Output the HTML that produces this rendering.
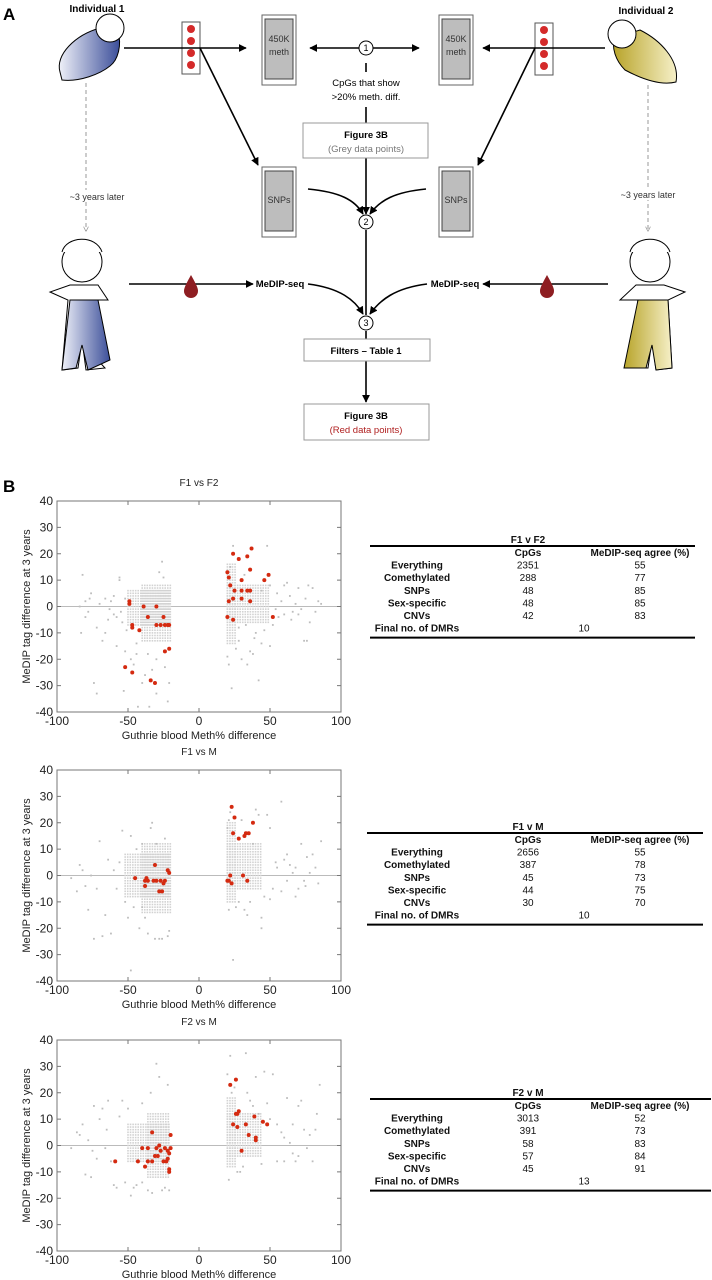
<!DOCTYPE html>
<html><head><meta charset="utf-8">
<style>
html,body{margin:0;padding:0;background:#fff;}
body{width:712px;height:1280px;position:relative;overflow:hidden;font-family:"Liberation Sans",sans-serif;}
svg{position:absolute;left:0;top:0;}
text{font-family:"Liberation Sans",sans-serif;}
</style></head>
<body>
<svg width="712" height="1280" viewBox="0 0 712 1280">
<defs>
<marker id="ah" viewBox="0 0 10 10" refX="9" refY="5" markerWidth="5" markerHeight="5" orient="auto-start-reverse"><path d="M0,0 L10,5 L0,10 z" fill="#000"/></marker>
<marker id="ahg" viewBox="0 0 10 10" refX="9" refY="5" markerWidth="5" markerHeight="5" orient="auto"><path d="M0,0 L10,5 L0,10" fill="none" stroke="#999" stroke-width="1.5"/></marker>
<linearGradient id="blue" x1="0" y1="0" x2="1" y2="0"><stop offset="0" stop-color="#eef0f8"/><stop offset="1" stop-color="#3c4f9a"/></linearGradient>
<linearGradient id="yel" x1="0" y1="0" x2="1" y2="0"><stop offset="0" stop-color="#b8a42a"/><stop offset="1" stop-color="#f6f0c8"/></linearGradient>
</defs>

<!-- PANEL A -->
<g>
<text x="3" y="20" font-size="17" font-weight="bold">A</text>
<text x="97" y="12" font-size="10" font-weight="bold" text-anchor="middle">Individual 1</text>
<text x="646" y="14" font-size="10" font-weight="bold" text-anchor="middle">Individual 2</text>

<g stroke="#000" stroke-width="1">
<path d="M60,72 C55,55 75,35 100,28 L118,32 C122,45 118,60 110,66 C100,74 80,82 62,80 Z" fill="url(#blue)"/>
<circle cx="110" cy="28" r="14" fill="#fff"/>
</g>
<g stroke="#000" stroke-width="1">
<path d="M614,38 L640,30 C660,40 680,60 676,82 C660,86 640,78 625,70 C615,60 612,48 614,38 Z" fill="url(#yel)"/>
<circle cx="622" cy="34" r="14" fill="#fff"/>
</g>

<g>
<rect x="182" y="22" width="18" height="52" fill="#fff" stroke="#555"/>
<circle cx="191" cy="29" r="4" fill="#d42a2a"/><circle cx="191" cy="41" r="4" fill="#d42a2a"/><circle cx="191" cy="53" r="4" fill="#d42a2a"/><circle cx="191" cy="65" r="4" fill="#d42a2a"/>
</g>
<g>
<rect x="535" y="23" width="18" height="52" fill="#fff" stroke="#555"/>
<circle cx="544" cy="30" r="4" fill="#d42a2a"/><circle cx="544" cy="42" r="4" fill="#d42a2a"/><circle cx="544" cy="54" r="4" fill="#d42a2a"/><circle cx="544" cy="66" r="4" fill="#d42a2a"/>
</g>

<g><rect x="262" y="15" width="34" height="70" fill="#fff" stroke="#666"/><rect x="265" y="19" width="28" height="60" fill="#bdbdbd" stroke="#444"/><text x="279" y="42" font-size="9" text-anchor="middle" fill="#333">450K</text><text x="279" y="55" font-size="9" text-anchor="middle" fill="#333">meth</text></g>
<g><rect x="439" y="15" width="34" height="70" fill="#fff" stroke="#666"/><rect x="442" y="19" width="28" height="60" fill="#bdbdbd" stroke="#444"/><text x="456" y="42" font-size="9" text-anchor="middle" fill="#333">450K</text><text x="456" y="55" font-size="9" text-anchor="middle" fill="#333">meth</text></g>
<g><rect x="262" y="167" width="34" height="70" fill="#fff" stroke="#666"/><rect x="265" y="171" width="28" height="60" fill="#bdbdbd" stroke="#444"/><text x="279" y="203" font-size="9" text-anchor="middle" fill="#333">SNPs</text></g>
<g><rect x="439" y="167" width="34" height="70" fill="#fff" stroke="#666"/><rect x="442" y="171" width="28" height="60" fill="#bdbdbd" stroke="#444"/><text x="456" y="203" font-size="9" text-anchor="middle" fill="#333">SNPs</text></g>

<g stroke="#000" stroke-width="1.6" fill="none">
<line x1="124" y1="48" x2="246" y2="48" marker-end="url(#ah)"/>
<line x1="605" y1="48" x2="483" y2="48" marker-end="url(#ah)"/>
<line x1="310" y1="48" x2="419" y2="48" marker-start="url(#ah)" marker-end="url(#ah)"/>
<line x1="200" y1="48" x2="258" y2="165" marker-end="url(#ah)"/>
<line x1="535" y1="48" x2="478" y2="165" marker-end="url(#ah)"/>
<line x1="366" y1="63" x2="366" y2="72"/>
<line x1="366" y1="107" x2="366" y2="123"/>
<line x1="366" y1="158" x2="366" y2="214" marker-end="url(#ah)"/>
<path d="M308,189 C340,192 355,200 363,214" marker-end="url(#ah)"/>
<path d="M426,189 C395,192 380,200 370,214" marker-end="url(#ah)"/>
<line x1="366" y1="230" x2="366" y2="315"/>
<line x1="129" y1="284" x2="253" y2="284" marker-end="url(#ah)"/>
<line x1="608" y1="284" x2="483" y2="284" marker-end="url(#ah)"/>
<path d="M308,284 C340,288 355,300 363,314" marker-end="url(#ah)"/>
<path d="M427,284 C395,288 380,300 370,314" marker-end="url(#ah)"/>
<line x1="366" y1="331" x2="366" y2="339"/>
<line x1="366" y1="361" x2="366" y2="402" marker-end="url(#ah)"/>
</g>
<g font-size="9" text-anchor="middle">
<circle cx="366" cy="48" r="7" fill="#fff" stroke="#000"/><text x="366" y="51">1</text>
<circle cx="366" cy="222" r="7" fill="#fff" stroke="#000"/><text x="366" y="225">2</text>
<circle cx="366" cy="323" r="7" fill="#fff" stroke="#000"/><text x="366" y="326">3</text>
</g>
<text x="366" y="86" font-size="9.5" text-anchor="middle">CpGs that show</text>
<text x="366" y="100" font-size="9.5" text-anchor="middle">&gt;20% meth. diff.</text>
<g><rect x="303" y="123" width="125" height="35" fill="#fff" stroke="#999"/><text x="366" y="138" font-size="9.5" font-weight="bold" text-anchor="middle">Figure 3B</text><text x="366" y="152" font-size="9.5" text-anchor="middle" fill="#777">(Grey data points)</text></g>
<g><rect x="304" y="339" width="126" height="22" fill="#fff" stroke="#999"/><text x="366" y="354" font-size="9.5" font-weight="bold" text-anchor="middle">Filters – Table 1</text></g>
<g><rect x="304" y="404" width="125" height="36" fill="#fff" stroke="#999"/><text x="366" y="419" font-size="9.5" font-weight="bold" text-anchor="middle">Figure 3B</text><text x="366" y="433" font-size="9.5" text-anchor="middle" fill="#b02020">(Red data points)</text></g>

<g><line x1="86" y1="83" x2="86" y2="231" stroke="#999" stroke-dasharray="4,3" marker-end="url(#ahg)"/><rect x="58" y="190" width="60" height="12" fill="#fff"/><text x="97" y="200" font-size="9" text-anchor="middle" fill="#333">~3 years later</text></g>
<g><line x1="648" y1="85" x2="648" y2="231" stroke="#999" stroke-dasharray="4,3" marker-end="url(#ahg)"/><rect x="616" y="188" width="62" height="12" fill="#fff"/><text x="648" y="198" font-size="9" text-anchor="middle" fill="#333">~3 years later</text></g>

<text x="280" y="287" font-size="9.5" font-weight="bold" text-anchor="middle" fill="#fff" stroke="#fff" stroke-width="4">MeDIP-seq</text>
<text x="280" y="287" font-size="9.5" font-weight="bold" text-anchor="middle">MeDIP-seq</text>
<text x="455" y="287" font-size="9.5" font-weight="bold" text-anchor="middle" fill="#fff" stroke="#fff" stroke-width="4">MeDIP-seq</text>
<text x="455" y="287" font-size="9.5" font-weight="bold" text-anchor="middle">MeDIP-seq</text>
<path d="M191,275 C186,284 184,288 184,291 A7,7 0 0 0 198,291 C198,288 196,284 191,275Z" fill="#8e1e22"/>
<path d="M547,275 C542,284 540,288 540,291 A7,7 0 0 0 554,291 C554,288 552,284 547,275Z" fill="#8e1e22"/>

<g stroke="#000" stroke-width="1">
<circle cx="82" cy="262" r="20" fill="#fff"/>
<path d="M62,252 C66,236 96,234 102,252" fill="#fff"/>
<path d="M70,285 L98,285 L108,300 L95,300 L93,355 L105,368 L86,370 L82,340 L78,368 L62,370 L68,300 L50,292 Z" fill="#fff"/>
<path d="M70,300 L98,300 L110,360 L88,370 L82,345 L76,368 L62,370 Z" fill="url(#blue)"/>
</g>
<g stroke="#000" stroke-width="1">
<circle cx="650" cy="262" r="20" fill="#fff"/>
<path d="M630,252 C634,236 664,234 670,252" fill="#fff"/>
<path d="M636,285 L664,285 L685,292 L668,300 L672,368 L656,370 L652,340 L648,368 L628,368 L638,300 L620,300 Z" fill="#fff"/>
<path d="M638,300 L668,300 L672,368 L656,370 L652,345 L646,368 L624,368 Z" fill="url(#yel)"/>
</g>
</g>

<text x="3" y="492" font-size="17" font-weight="bold">B</text>
<g id="charts"></g>
<g id="tables"></g>
</svg>

<script>
const plotTitles = ["F1 vs F2", "F1 vs M", "F2 vs M"];
const xTicks = [-100, -50, 0, 50, 100];
const yTicks = [40, 30, 20, 10, 0, -10, -20, -30, -40];

const red1X = [-49,-49,-47,-47,-42,-39,-36,-30,-30,-27,-25,-24,-22,-21,-24,-21,-52,-47,-34,-31,20,21,22,21,20,24,24,25,28,30,30,30,34,34,36,36,36,37,46,49,52,24];
const red1Y = [2,1,-7,-8,-9,0,-4,0,-7,-7,-4,-7,-7,-7,-17,-16,-23,-25,-28,-29,13,11,8,2,-4,20,3,6,18,10,6,3,19,6,14,6,2,22,10,12,-4,-5];
const grey1X = [-82,-83,-80,-78,-76,-74,-72,-70,-68,-66,-64,-62,-60,-58,-56,-56,-54,-53,-52,-51,-48,-46,-44,-43,-40,-38,-35,-33,-30,-28,-26,-24,-22,-21,-25,-44,-36,-30,-60,-66,-72,-58,-84,-80,-77,-63,-55,-52,20,21,22,23,24,26,28,30,32,34,36,38,40,42,44,46,48,50,52,55,58,60,62,64,66,68,70,72,74,76,77,78,80,82,84,86,56,60,65,70,75,44,50,54,39,33,28];
const grey1Y = [12,-10,2,-2,5,-29,-33,1,-13,3,-5,2,-3,-15,11,10,-6,-32,-17,-9,-20,-22,-14,-38,-29,-26,-38,-24,-33,13,17,-23,-36,-29,11,-18,-18,-20,4,-10,-8,-4,0,-4,3,-1,-2,3,-19,-22,15,-31,23,-16,-13,-20,12,-22,-17,-18,-10,-28,-14,-9,23,-15,-7,5,2,-3,9,4,-2,1,7,-1,-13,-13,8,-6,7,-2,2,1,-4,8,-5,-3,3,6,8,-1,-12,-7,-8];
const band1XMin = [-50,-40,20,20];
const band1XMax = [-20,-20,50,26];
const band1YMin = [-7,-13,-6,-14];
const band1YMax = [6,8,8,16];

const red2X = [-45,-38,-37,-38,-36,-32,-31,-30,-28,-26,-25,-24,-22,-21,-27,20,21,22,23,23,24,25,28,31,32,33,34,35,38];
const red2Y = [-1,-2,-1,-4,-2,-2,4,-2,-6,-6,-3,-2,2,1,-2,-2,-2,0,-3,26,16,22,14,0,15,16,-2,16,20];
const grey2X = [-90,-86,-84,-82,-80,-78,-76,-74,-72,-70,-68,-66,-64,-62,-60,-58,-56,-54,-52,-50,-48,-48,-46,-44,-42,-40,-38,-36,-34,-33,-31,-28,-26,-24,-22,-21,-30,-40,20,21,21,22,24,26,28,30,32,34,36,38,40,42,44,44,48,50,52,55,58,58,60,62,64,66,68,70,72,74,76,78,80,82,84,86,46,50,54,62,68,75];
const grey2Y = [-1,-6,4,2,-4,-13,0,-24,-5,13,-23,-15,6,-22,2,-5,5,17,-10,-16,15,-36,-12,10,-20,-12,-16,-22,18,20,-24,-24,-24,14,-23,-21,12,12,18,21,-13,24,-32,-12,-10,21,-13,-15,-10,12,25,23,-16,-20,23,18,-5,3,28,-6,6,-2,4,1,-8,-5,12,-2,7,1,8,3,-3,13,-8,-9,5,8,3,-4];
const band2XMin = [-52,-40,20,20];
const band2XMax = [-20,-20,45,26];
const band2YMin = [-8,-14,-5,-10];
const band2YMax = [8,12,12,20];

const red3X = [-59,-43,-40,-36,-36,-33,-33,-31,-30,-29,-28,-27,-25,-24,-23,-22,-22,-21,-21,-20,-20,-21,-38,22,24,26,26,27,27,28,30,33,35,39,40,40,45,48];
const red3Y = [-6,-6,-1,-1,-6,5,-6,-4,-1,-4,0,-2,-6,-1,-6,-2,-5,-9,-3,-1,4,-10,-8,23,8,12,25,7,12,13,-2,8,4,11,2,3,9,8];
const grey3X = [-90,-86,-84,-82,-80,-78,-76,-74,-72,-70,-68,-66,-64,-62,-60,-58,-56,-54,-52,-50,-48,-46,-44,-40,-36,-33,-30,-28,-26,-24,-22,-21,-34,-40,-65,-75,20,21,22,23,25,27,29,31,33,34,36,38,40,42,44,46,48,50,52,55,58,60,62,64,66,68,70,72,74,76,78,80,82,83,85,70,60,55,66];
const grey3Y = [-1,5,4,8,-11,2,-12,15,-5,10,14,-1,17,-6,-15,-16,11,17,-14,14,-19,-16,-15,-14,-17,-18,31,26,-17,-16,23,-17,20,16,6,-2,27,-13,34,20,22,-10,-10,-8,35,20,17,15,26,12,-7,28,16,10,27,-6,5,-6,18,1,-3,-6,15,17,6,-1,4,-6,6,12,23,-4,3,8,8];
const band3XMin = [-50,-36,20,20];
const band3XMax = [-20,-20,45,26];
const band3YMin = [-6,-12,-4,-8];
const band3YMax = [8,12,12,18];

const redXs = [red1X, red2X, red3X];
const redYs = [red1Y, red2Y, red3Y];
const greyXs = [grey1X, grey2X, grey3X];
const greyYs = [grey1Y, grey2Y, grey3Y];
const bandXMins = [band1XMin, band2XMin, band3XMin];
const bandXMaxs = [band1XMax, band2XMax, band3XMax];
const bandYMins = [band1YMin, band2YMin, band3YMin];
const bandYMaxs = [band1YMax, band2YMax, band3YMax];

const tableTitles = ["F1 v F2", "F1 v M", "F2 v M"];
const rowLabels = ["Everything","Comethylated","SNPs","Sex-specific","CNVs"];
const cpgs = [[2351,288,48,48,42],[2656,387,45,44,30],[3013,391,58,57,45]];
const agree = [[55,77,85,85,83],[55,78,73,75,70],[52,73,83,84,91]];
const dmrs = [10, 10, 13];

const NS = "http://www.w3.org/2000/svg";
function mk(tag, attrs, parent){ const e=document.createElementNS(NS,tag); for(const k in attrs) e.setAttribute(k,attrs[k]); if(parent) parent.appendChild(e); return e; }

const plotTops = [501, 770, 1040];
const L = 57, R = 341, H = 211;
const charts = document.getElementById('charts');

plotTitles.forEach((title, p) => {
  const T = plotTops[p], B = T + H;
  const xs = v => L + (v + 100) / 200 * (R - L);
  const ys = v => T + (40 - v) / 80 * H;
  const g = mk('g', {}, charts);
  
  
  const t = mk('text', {x:(L+R)/2, y:T-15, 'font-size':10, 'text-anchor':'middle', fill:'#222'}, g);
  t.textContent = title;
  
  
  const z = mk('line', {x1:L, x2:R, y1:ys(0), y2:ys(0), stroke:'#bbb', 'stroke-width':1}, g);
  
  
  const bx0 = bandXMins[p], bx1 = bandXMaxs[p], by0 = bandYMins[p], by1 = bandYMaxs[p];
  for (let b = 0; b < bx0.length; b++) {
    for (let yv = by0[b]; yv <= by1[b]; yv++) {
      for (let xv = bx0[b]; xv <= bx1[b]; xv += 1.8) {
        const d = mk('rect', {x:xs(xv)-0.8, y:ys(yv)-0.8, width:1.6, height:1.6, fill:'#d2d2d2'}, g);
        
        
      }
    }
  }
  const gx = greyXs[p], gy = greyYs[p];
  for (let i = 0; i < gx.length; i++) {
    const d = mk('rect', {x:xs(gx[i])-0.9, y:ys(gy[i])-0.9, width:1.8, height:1.8, fill:'#bdbdbd'}, g);
    
    
  }
  const rx = redXs[p], ry = redYs[p];
  for (let i = 0; i < rx.length; i++) {
    const c = mk('circle', {cx:xs(rx[i]), cy:ys(ry[i]), r:2, fill:'#d42a10'}, g);
    
    
  }
  const f = mk('rect', {x:L, y:T, width:R-L, height:H, fill:'none', stroke:'#777', 'stroke-width':1}, g);
  
  
  xTicks.forEach(v => {
    mk('line', {x1:xs(v), x2:xs(v), y1:B, y2:B-4, stroke:'#777'}, g);
    mk('line', {x1:xs(v), x2:xs(v), y1:T, y2:T+4, stroke:'#777'}, g);
    const tl = mk('text', {x:xs(v), y:B+13, 'font-size':12, 'text-anchor':'middle', fill:'#222'}, g);
    tl.textContent = v;
    
    
  });
  yTicks.forEach(v => {
    mk('line', {x1:L, x2:L+4, y1:ys(v), y2:ys(v), stroke:'#777'}, g);
    mk('line', {x1:R, x2:R-4, y1:ys(v), y2:ys(v), stroke:'#777'}, g);
    const tl = mk('text', {x:L-4, y:ys(v)+4, 'font-size':12, 'text-anchor':'end', fill:'#222'}, g);
    tl.textContent = v;
    
    
  });
  const xl = mk('text', {x:(L+R)/2, y:B+27, 'font-size':11, 'text-anchor':'middle', fill:'#222'}, g);
  xl.textContent = 'Guthrie blood Meth% difference';
  
  
  const yl = mk('text', {x:0, y:0, 'font-size':11, 'text-anchor':'middle', fill:'#222', transform:`translate(30,${T+H/2}) rotate(-90)`}, g);
  yl.textContent = 'MeDIP tag difference at 3 years';
  
  
});

const tableTops = [546, 833, 1099];
const tableLefts = [370, 367, 370];
const tableRights = [695, 703, 711];
const tables = document.getElementById('tables');
tableTitles.forEach((title, k) => {
  const top = tableTops[k], l = tableLefts[k], r = tableRights[k];
  const g = mk('g', {'font-size':10, fill:'#111'}, tables);
  
  
  const tt = mk('text', {x:528, y:top-3, 'font-weight':'bold', 'text-anchor':'middle'}, g);
  tt.textContent = title;
  mk('line', {x1:l, x2:r, y1:top, y2:top, stroke:'#000', 'stroke-width':2}, g);
  const rh = 12.6;
  const h1 = mk('text', {x:528, y:top+10, 'font-weight':'bold', 'text-anchor':'middle'}, g); h1.textContent = 'CpGs';
  const h2 = mk('text', {x:640, y:top+10, 'font-weight':'bold', 'text-anchor':'middle'}, g); h2.textContent = 'MeDIP-seq agree (%)';
  rowLabels.forEach((lab, i) => {
    const y = top + 10 + rh*(i+1);
    const a = mk('text', {x:417, y:y, 'font-weight':'bold', 'text-anchor':'middle'}, g); a.textContent = lab;
    const b = mk('text', {x:528, y:y, 'text-anchor':'middle'}, g); b.textContent = cpgs[k][i];
    const c = mk('text', {x:640, y:y, 'text-anchor':'middle'}, g); c.textContent = agree[k][i];
  });
  const fy = top + 10 + rh*6;
  const fl = mk('text', {x:417, y:fy, 'font-weight':'bold', 'text-anchor':'middle'}, g); fl.textContent = 'Final no. of DMRs';
  const fv = mk('text', {x:584, y:fy, 'text-anchor':'middle'}, g); fv.textContent = dmrs[k];
  mk('line', {x1:l, x2:r, y1:fy+6, y2:fy+6, stroke:'#000', 'stroke-width':2}, g);
});
</script>
</body></html>
